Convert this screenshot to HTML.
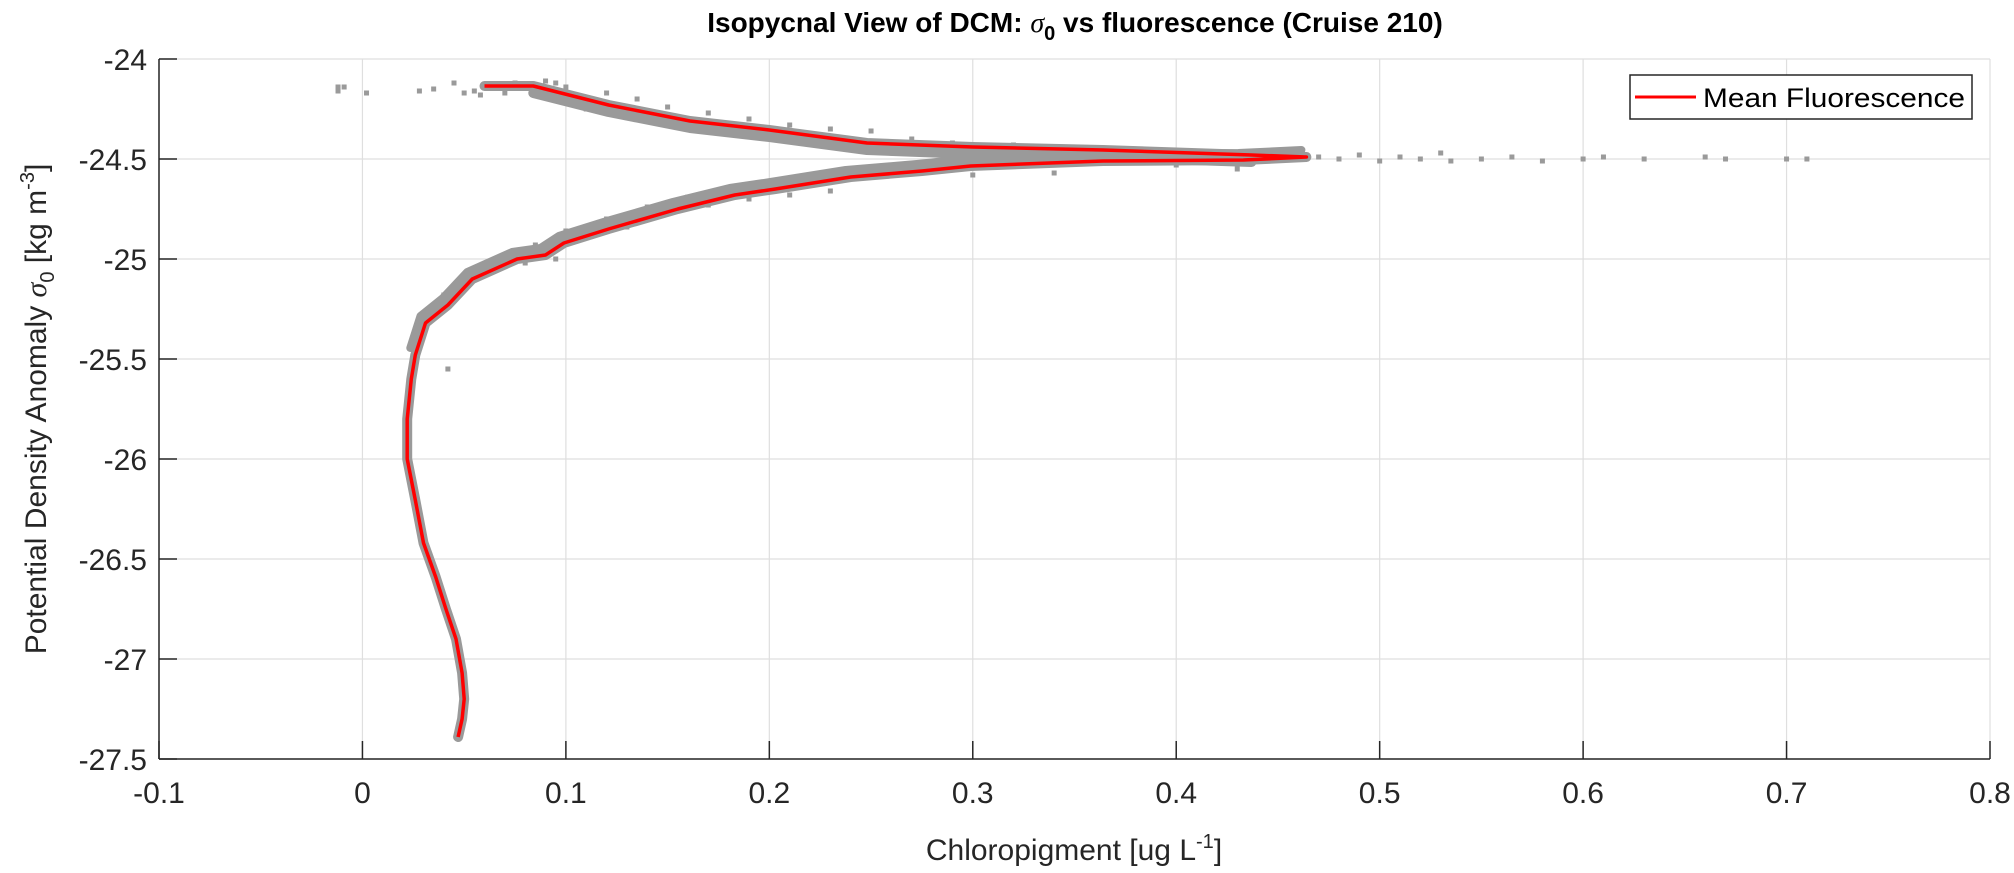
<!DOCTYPE html>
<html><head><meta charset="utf-8"><style>
html,body{margin:0;padding:0;background:#fff;}
svg{display:block;font-family:"Liberation Sans",Arial,sans-serif;}
</style></head><body>
<svg id="chart" width="2014" height="873" viewBox="0 0 2014 873" xmlns="http://www.w3.org/2000/svg">
<rect width="2014" height="873" fill="#fff"/>
<g id="grid"></g>
<g id="scatter"></g>
<g id="meanline"></g>
<g id="axes"></g>
<text x="1075" y="32" text-anchor="middle" font-size="28" font-weight="bold" fill="#000">Isopycnal View of DCM: <tspan font-family="Liberation Serif" font-style="italic" font-weight="normal">σ</tspan><tspan font-size="20" dy="8">0</tspan><tspan dy="-8"> vs fluorescence (Cruise 210)</tspan></text>
<text x="1074" y="860" text-anchor="middle" font-size="30" fill="#262626">Chloropigment [ug L<tspan font-size="20" dy="-12">-1</tspan><tspan dy="12">]</tspan></text>
<text transform="translate(46,409) rotate(-90)" text-anchor="middle" font-size="30" fill="#262626">Potential Density Anomaly <tspan font-family="Liberation Serif" font-style="italic">σ</tspan><tspan font-size="20" dy="8">0</tspan><tspan dy="-8"> [kg m</tspan><tspan font-size="20" dy="-12">-3</tspan><tspan dy="12">]</tspan></text>
<g>
<rect x="1630" y="75" width="342" height="44" fill="#fff" stroke="#262626" stroke-width="1.5"/>
<line x1="1635" y1="97" x2="1696" y2="97" stroke="#ff0000" stroke-width="3"/>
<text x="1703" y="107" font-size="27" textLength="262" lengthAdjust="spacingAndGlyphs" fill="#000">Mean Fluorescence</text>
</g>
</svg>
<script>
const xTicks = [-0.1,0,0.1,0.2,0.3,0.4,0.5,0.6,0.7,0.8];
const xTickLabels = ["-0.1","0","0.1","0.2","0.3","0.4","0.5","0.6","0.7","0.8"];
const yTicks = [-24,-24.5,-25,-25.5,-26,-26.5,-27,-27.5];
const yTickLabels = ["-24","-24.5","-25","-25.5","-26","-26.5","-27","-27.5"];
const meanChl = [0.060,0.084,0.121,0.161,0.200,0.248,0.300,0.364,0.437,0.464,0.433,0.364,0.299,0.275,0.240,0.203,0.183,0.155,0.121,0.099,0.090,0.076,0.054,0.042,0.031,0.026,0.024,0.022,0.022,0.026,0.030,0.036,0.041,0.046,0.049,0.050,0.049,0.047];
const meanSig = [-24.135,-24.135,-24.23,-24.31,-24.355,-24.42,-24.44,-24.455,-24.48,-24.49,-24.505,-24.51,-24.535,-24.56,-24.59,-24.65,-24.68,-24.75,-24.85,-24.92,-24.98,-25.0,-25.1,-25.23,-25.32,-25.48,-25.6,-25.8,-26.0,-26.205,-26.42,-26.59,-26.75,-26.9,-27.07,-27.2,-27.3,-27.39];
const scatChl = [-0.012,-0.012,-0.009,0.002,0.028,0.035,0.045,0.05,0.055,0.058,0.063,0.07,0.075,
0.09,0.095,0.1,0.105,0.11,0.12,0.13,0.135,0.14,0.15,0.16,0.17,0.18,0.19,0.2,0.21,0.22,0.23,0.24,0.25,0.26,0.27,0.28,0.29,0.3,0.32,0.33,0.35,0.37,0.39,0.41,
0.47,0.48,0.49,0.5,0.51,0.52,0.53,0.535,0.55,0.565,0.58,0.6,0.61,0.63,0.66,0.67,0.7,0.71,0.43,
0.4,0.38,0.36,0.34,0.32,0.3,0.28,0.26,0.24,0.23,0.22,0.21,0.2,0.19,0.18,0.17,0.16,0.15,0.14,0.13,0.12,0.11,0.1,0.095,0.085,0.08,0.07,0.06,0.05,0.045,0.04,0.035,0.03,0.042];
const scatSig = [-24.14,-24.16,-24.14,-24.17,-24.16,-24.15,-24.12,-24.17,-24.16,-24.18,-24.13,-24.17,-24.12,
-24.11,-24.12,-24.14,-24.2,-24.25,-24.17,-24.28,-24.2,-24.3,-24.24,-24.35,-24.27,-24.36,-24.3,-24.4,-24.33,-24.41,-24.35,-24.44,-24.36,-24.44,-24.4,-24.47,-24.42,-24.46,-24.43,-24.47,-24.45,-24.47,-24.46,-24.48,
-24.49,-24.5,-24.48,-24.51,-24.49,-24.5,-24.47,-24.51,-24.5,-24.49,-24.51,-24.5,-24.49,-24.5,-24.49,-24.5,-24.5,-24.5,-24.55,
-24.53,-24.52,-24.5,-24.57,-24.52,-24.58,-24.53,-24.56,-24.6,-24.66,-24.61,-24.68,-24.63,-24.7,-24.67,-24.73,-24.69,-24.77,-24.74,-24.84,-24.8,-24.88,-24.86,-25.0,-24.93,-25.02,-24.99,-25.06,-25.08,-25.15,-25.18,-25.25,-25.28,-25.55];

const X0=159,X1=1990,Y0=59,Y1=759,XMIN=-0.1,XMAX=0.8,YMIN=-27.5,YMAX=-24;
function xs(v){return X0+(v-XMIN)/(XMAX-XMIN)*(X1-X0);}
function ys(v){return Y0+(YMAX-v)/(YMAX-YMIN)*(Y1-Y0);}
const NS="http://www.w3.org/2000/svg";
function mk(tag,attrs,parent){const e=document.createElementNS(NS,tag);for(const k in attrs)e.setAttribute(k,attrs[k]);parent.appendChild(e);return e;}
const grid=document.getElementById('grid'),axes=document.getElementById('axes'),sc=document.getElementById('scatter'),ml=document.getElementById('meanline');
xTicks.forEach((t,i)=>{
  const g=mk('line',{x1:xs(t),x2:xs(t),y1:Y0,y2:Y1,stroke:'#dfdfdf','stroke-width':1.2},grid);
  
  
  const tk=mk('line',{x1:xs(t),x2:xs(t),y1:Y1,y2:Y1-18,stroke:'#262626','stroke-width':1.5},axes);
  
  
  const tx=mk('text',{x:xs(t),y:803,'text-anchor':'middle','font-size':30,fill:'#262626'},axes);
  tx.textContent=xTickLabels[i];
  
  
});
yTicks.forEach((t,i)=>{
  const g=mk('line',{x1:X0,x2:X1,y1:ys(t),y2:ys(t),stroke:'#dfdfdf','stroke-width':1.2},grid);
  
  
  const tk=mk('line',{x1:X0,x2:X0+18,y1:ys(t),y2:ys(t),stroke:'#262626','stroke-width':1.5},axes);
  
  
  const tx=mk('text',{x:147,y:ys(t)+11,'text-anchor':'end','font-size':30,fill:'#262626'},axes);
  tx.textContent=yTickLabels[i];
  
  
});
const xa=mk('line',{x1:X0,x2:X1,y1:Y1,y2:Y1,stroke:'#262626','stroke-width':1.5},axes);


const ya=mk('line',{x1:X0,x2:X0,y1:Y0,y2:Y1,stroke:'#262626','stroke-width':1.5},axes);


const pts=meanChl.map((v,i)=>xs(v).toFixed(1)+','+ys(meanSig[i]).toFixed(1)).join(' ');
const band=mk('polyline',{points:pts,fill:'none',stroke:'#9a9a9a','stroke-width':10,'stroke-linejoin':'round','stroke-linecap':'round'},sc);


// upper branch scatter lies mostly below the mean line; lower branch lies above-left
const upPts=meanChl.slice(1,9).map((v,i)=>xs(v).toFixed(1)+','+(ys(meanSig[i+1])+7).toFixed(1)).join(' ');
const upBand=mk('polyline',{points:upPts,fill:'none',stroke:'#9a9a9a','stroke-width':10,'stroke-linejoin':'round','stroke-linecap':'round'},sc);


const loPts=meanChl.slice(9,26).map((v,i)=>(xs(v)-5).toFixed(1)+','+(ys(meanSig[i+9])-7).toFixed(1)).join(' ');
const loBand=mk('polyline',{points:loPts,fill:'none',stroke:'#9a9a9a','stroke-width':8,'stroke-linejoin':'round','stroke-linecap':'round'},sc);


scatChl.forEach((v,i)=>{
  const r=mk('rect',{x:xs(v)-2.5,y:ys(scatSig[i])-2.5,width:5,height:5,fill:'#9a9a9a'},sc);
  
  
});
const line=mk('polyline',{points:pts,fill:'none',stroke:'#ff0000','stroke-width':3.5,'stroke-linejoin':'round'},ml);


</script>
</body></html>
